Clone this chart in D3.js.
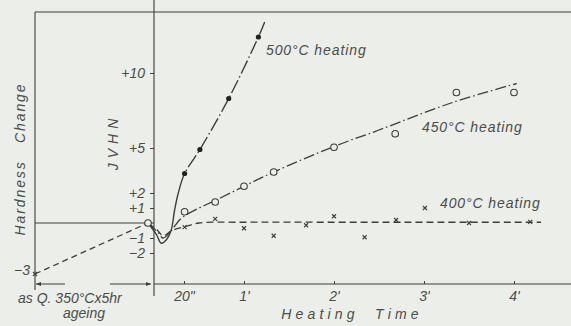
<!DOCTYPE html>
<html>
<head>
<meta charset="utf-8">
<script src="https://cdn.jsdelivr.net/npm/d3@7"></script>
<style>
  body { margin: 0; background: #eceee9; }
  svg { display: block; }
  text { font-family: "Liberation Sans", Arial, sans-serif; font-style: italic; fill: #4a4d4a; }
</style>
</head>
<body>
<svg id="viz" width="571" height="326"></svg>
<script>
// Ageing step (left panel)
const agingStages = ['asQ', 'aged'];
const agingValues = [-3.4, 0];

// 500°C heating: measured points and drawn curve (time in minutes, ΔVHN)
const t500Points = [0.34, 0.51, 0.83, 1.16];
const v500Points = [3.3, 4.9, 8.3, 12.4];
const t500Curve = [0.03, 0.08, 0.14, 0.19, 0.23, 0.27, 0.34, 0.51, 0.83, 1.16, 1.23];
const v500Curve = [-0.8, -1.35, -1.1, -0.5, 0.9, 2.0, 3.3, 4.9, 8.3, 12.4, 13.4];

// 450°C heating
const t450Points = [0.34, 0.68, 1.0, 1.33, 2.0, 2.68, 3.36, 4.0];
const v450Points = [0.75, 1.4, 2.45, 3.4, 5.05, 5.95, 8.7, 8.7];
const t450Curve = [0.04, 0.1, 0.18, 0.3, 0.5, 0.68, 1.0, 1.33, 2.0, 2.5, 3.3, 4.03];
const v450Curve = [-0.6, -1.0, -0.6, 0.3, 1.0, 1.5, 2.45, 3.4, 5.1, 6.2, 8.0, 9.3];

// 400°C heating
const t400Points = [0.34, 0.68, 1.0, 1.33, 1.69, 2.0, 2.34, 2.69, 3.01, 3.5, 4.18];
const v400Points = [-0.27, 0.27, -0.35, -0.85, -0.15, 0.45, -0.95, 0.2, 1.0, 0.0, 0.07];
const t400Curve = [0.04, 0.1, 0.2, 0.34, 0.5, 1.0, 2.0, 3.0, 4.3];
const v400Curve = [-0.5, -0.85, -0.5, -0.25, 0.0, 0.05, 0.05, 0.05, 0.05];

const yTicks = [10, 5, 2, 1, -1, -2];
const xTicks = [1 / 3, 1, 2, 3, 4];
const xTickLabels = ['20"', "1'", "2'", "3'", "4'"];

const ink = '#3b3e3b';
const svg = d3.select('#viz');

const x = d3.scaleLinear().domain([0, 4]).range([154, 514]);
const y = d3.scaleLinear().domain([-2, 10]).range([253, 73]);
const stage = d3.scalePoint().domain(agingStages).range([35, 148]);

const g = svg.append('g');

// frame lines
g.append('line').attr('x1', 35).attr('x2', 571).attr('y1', 12).attr('y2', 12).attr('stroke', ink).attr('stroke-width', 1.1);
g.append('line').attr('x1', 35).attr('x2', 35).attr('y1', 12).attr('y2', 290).attr('stroke', ink).attr('stroke-width', 1.1);
g.append('line').attr('x1', x(0)).attr('x2', x(0)).attr('y1', 0).attr('y2', 296).attr('stroke', ink).attr('stroke-width', 1.1);
g.append('line').attr('x1', x(0)).attr('x2', 571).attr('y1', 284).attr('y2', 284).attr('stroke', ink).attr('stroke-width', 1.1);
g.append('line').attr('x1', 35).attr('x2', x(0)).attr('y1', y(0)).attr('y2', y(0)).attr('stroke', ink).attr('stroke-width', 1.1);

// y axis
const yAxis = g.append('g').attr('transform', `translate(${x(0)},0)`)
  .call(d3.axisLeft(y).tickValues(yTicks).tickSize(4).tickPadding(5)
    .tickFormat(d => (d > 0 ? '+' : '\u2212') + Math.abs(d)));
yAxis.select('.domain').remove();
yAxis.selectAll('line').attr('stroke', ink);
yAxis.selectAll('text').style('font-size', '14px').style('font-family', '"Liberation Sans", Arial, sans-serif').attr('fill', '#4a4d4a');

// -3 label on left border
g.append('text').attr('x', 30).attr('y', y(-3.15)).attr('dy', '0.35em').attr('text-anchor', 'end')
  .style('font-size', '14px').text('\u22123');

// x axis
const xAxis = g.append('g').attr('transform', 'translate(0,284)')
  .call(d3.axisBottom(x).tickValues(xTicks).tickSizeInner(-3).tickSizeOuter(0).tickPadding(7)
    .tickFormat((d, i) => xTickLabels[i]));
xAxis.select('.domain').remove();
xAxis.selectAll('line').attr('stroke', ink);
xAxis.selectAll('text').style('font-size', '14px').style('font-family', '"Liberation Sans", Arial, sans-serif').attr('fill', '#4a4d4a');

// ageing arrows under left panel
const defs = svg.append('defs');
defs.append('marker').attr('id', 'arr').attr('viewBox', '0 0 10 10').attr('refX', 10).attr('refY', 5)
  .attr('markerWidth', 7).attr('markerHeight', 5).attr('orient', 'auto-start-reverse')
  .append('path').attr('d', 'M0,1L10,5L0,9Z').attr('fill', ink);
g.append('line').attr('x1', 65).attr('x2', 36).attr('y1', 284).attr('y2', 284).attr('stroke', ink).attr('marker-end', 'url(#arr)');
g.append('line').attr('x1', 110).attr('x2', 151).attr('y1', 284).attr('y2', 284).attr('stroke', ink).attr('marker-end', 'url(#arr)');

// ageing dashed line
const agingPts = agingStages.map((s, i) => [stage(s), y(agingValues[i])]);
g.append('path').attr('d', d3.line()(agingPts)).attr('fill', 'none').attr('stroke', ink)
  .attr('stroke-width', 1.3).attr('stroke-dasharray', '6,4');

const lineGen = d3.line().curve(d3.curveCatmullRom.alpha(0.5));
const start = [stage('aged'), y(0)];
function curvePts(ts, vs) { return [start].concat(ts.map((t, i) => [x(t), y(vs[i])])); }

// clip regions for the 500°C solid / dash-dot split
defs.append('clipPath').attr('id', 'lowClip').append('rect').attr('x', 0).attr('width', 571).attr('y', y(3.3)).attr('height', 200);
defs.append('clipPath').attr('id', 'highClip').append('rect').attr('x', 0).attr('width', 571).attr('y', 0).attr('height', y(3.3));

// 400°C dashed
g.append('path').attr('d', lineGen(curvePts(t400Curve, v400Curve))).attr('fill', 'none').attr('stroke', ink)
  .attr('stroke-width', 1.3).attr('stroke-dasharray', '7,4');
// 450°C dash-dot
g.append('path').attr('d', lineGen(curvePts(t450Curve, v450Curve))).attr('fill', 'none').attr('stroke', ink)
  .attr('stroke-width', 1.3).attr('stroke-dasharray', '11,3,1.5,3');
// 500°C: solid low part, dash-dot upper part
const p500 = lineGen(curvePts(t500Curve, v500Curve));
g.append('path').attr('d', p500).attr('fill', 'none').attr('stroke', ink).attr('stroke-width', 1.4).attr('clip-path', 'url(#lowClip)');
g.append('path').attr('d', p500).attr('fill', 'none').attr('stroke', ink).attr('stroke-width', 1.4)
  .attr('stroke-dasharray', '14,3,1.5,3').attr('clip-path', 'url(#highClip)');

// markers
function cross(sel, cx, cy) {
  const s = 2;
  sel.append('path').attr('d', `M${cx - s},${cy - s}L${cx + s},${cy + s}M${cx - s},${cy + s}L${cx + s},${cy - s}`)
    .attr('stroke', ink).attr('stroke-width', 1.1);
}
t400Points.forEach((t, i) => cross(g, x(t), y(v400Points[i])));
cross(g, stage('asQ'), y(agingValues[0]));

g.selectAll('.p450').data(t450Points).enter().append('circle').attr('class', 'p450')
  .attr('cx', d => x(d)).attr('cy', (d, i) => y(v450Points[i])).attr('r', 3.3)
  .attr('fill', '#eceee9').attr('stroke', ink).attr('stroke-width', 1.1);
g.append('circle').attr('cx', stage('aged')).attr('cy', y(agingValues[1])).attr('r', 3.3)
  .attr('fill', '#eceee9').attr('stroke', ink).attr('stroke-width', 1.1);

g.selectAll('.p500').data(t500Points).enter().append('circle').attr('class', 'p500')
  .attr('cx', d => x(d)).attr('cy', (d, i) => y(v500Points[i])).attr('r', 2.6).attr('fill', '#222');

// curve labels
const lbl = (tx, ty, s) => g.append('text').attr('x', tx).attr('y', ty).style('font-size', '14px')
  .style('letter-spacing', '0.9px').text(s);
lbl(266, 55, '500°C heating');
lbl(422, 132, '450°C heating');
lbl(440, 208, '400°C heating');

// axis titles
g.append('text').attr('transform', 'translate(25,159) rotate(-90)').attr('text-anchor', 'middle')
  .style('font-size', '14px').style('letter-spacing', '1.9px').attr('xml:space', 'preserve').text('Hardness   Change');
g.append('text').attr('transform', 'translate(118,142) rotate(-90)').attr('text-anchor', 'middle')
  .style('font-size', '14px').style('letter-spacing', '5px').text('JVHN');
g.append('text').attr('x', 352).attr('y', 319).attr('text-anchor', 'middle')
  .style('font-size', '14px').style('letter-spacing', '4.2px').attr('xml:space', 'preserve').text('Heating  Time');
g.append('text').attr('x', 18).attr('y', 303).style('font-size', '14px').text('as Q. 350°Cx5hr');
g.append('text').attr('x', 84).attr('y', 318).attr('text-anchor', 'middle').style('font-size', '14px').text('ageing');
</script>
</body>
</html>
